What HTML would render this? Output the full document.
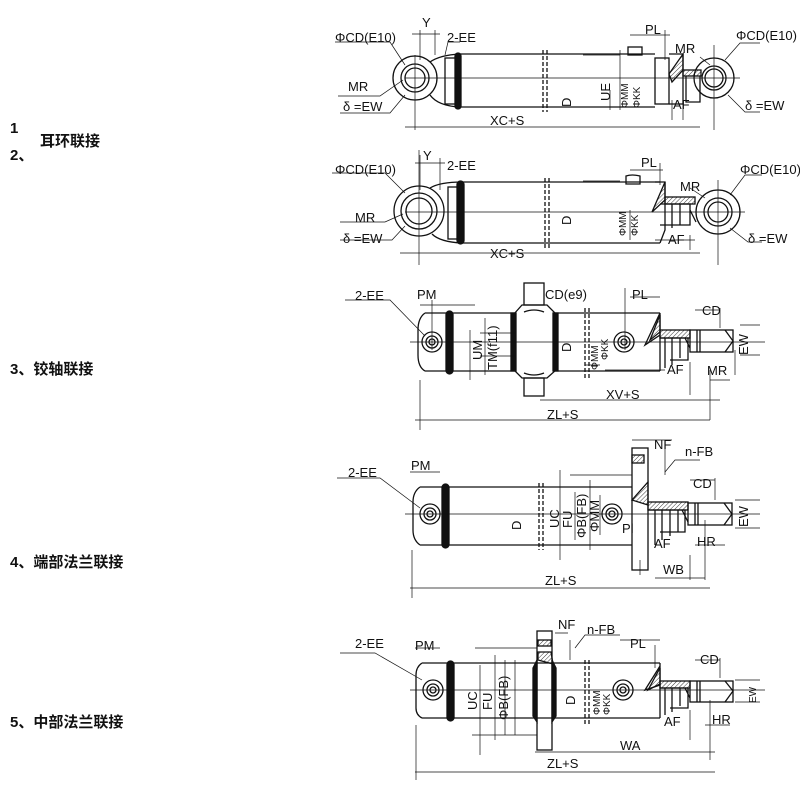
<!DOCTYPE html>
<html><head><meta charset="utf-8"><style>
html,body{margin:0;padding:0;background:#fff;}
svg{display:block;}
.t{font-family:"Liberation Sans",sans-serif;font-size:13px;fill:#111;}
.s{font-family:"Liberation Sans",sans-serif;font-size:10px;fill:#111;}
.c{font-family:"Liberation Sans","Noto Sans CJK SC",sans-serif;font-size:15px;fill:#111;font-weight:bold;}
</style></head><body>
<svg width="800" height="792" viewBox="0 0 800 792" xmlns="http://www.w3.org/2000/svg">
<defs>
<pattern id="h" width="3" height="3" patternUnits="userSpaceOnUse" patternTransform="rotate(45)"><line x1="0" y1="0" x2="0" y2="3" stroke="#222" stroke-width="0.9"/></pattern>
</defs>
<text class="c" x="10" y="133" font-size="13" font-weight="normal">1</text>
<text class="c" x="10" y="160" font-weight="normal">2、</text>
<text class="c" x="40" y="146">耳环联接</text>
<text class="c" x="10" y="374">3、铰轴联接</text>
<text class="c" x="10" y="567">4、端部法兰联接</text>
<text class="c" x="10" y="727">5、中部法兰联接</text>

<g fill="none" stroke="#111" stroke-width="1.3">
<!-- ===== Drawing 1 ===== -->
<circle cx="415" cy="78" r="22"/><circle cx="415" cy="78" r="14"/><circle cx="415" cy="78" r="10"/>
<path d="M430 62 Q440 55 460 54 L655 54 M430 95 Q438 106 460 107 L655 107"/>
<rect x="445" y="58" width="12" height="46"/>
<rect x="455" y="53" width="6" height="56" rx="3" fill="#111"/>
<path d="M543 50 V112 M547 50 V112" stroke-dasharray="4,2"/>
<rect x="655" y="58" width="14" height="46"/>
<path d="M669 54 L683 54 L683 104 L669 104"/><path d="M669 74 L683 54 L683 70 L672 82Z" fill="url(#h)"/>
<rect x="683" y="70" width="18" height="6" fill="url(#h)"/>
<path d="M686 76 V102 H700 V76"/>
<circle cx="714" cy="78" r="20"/><circle cx="714" cy="78" r="12"/><circle cx="714" cy="78" r="9"/>
<rect x="628" y="47" width="14" height="8"/>
<g stroke-width="0.7">
<path d="M405 78 H740 M415 55 V130 M714 45 V130 M405 127 H700"/>
<path d="M412 34 H440 M420 30 V60 M435 30 V55 M583 55 H620 M630 35 H670 M665 30 V60 M620 50 V110 M672 100 V120 M683 102 V120 M610 90 V110"/>
<path d="M335 42 L390 42 L405 65 M338 96 L380 96 L403 80 M340 113 L390 113 L405 95 M760 43 L740 43 L725 60 M760 112 L745 112 L728 95 M700 57 L710 65 M460 42 L448 42 L445 55"/>
</g>

<!-- ===== Drawing 2 ===== -->
<circle cx="419" cy="211" r="25"/><circle cx="419" cy="211" r="18"/><circle cx="419" cy="211" r="13"/>
<path d="M430 188 Q440 182 462 182 L660 182 M432 234 Q440 242 462 243 L660 243"/>
<rect x="448" y="187" width="12" height="52"/>
<rect x="457" y="181" width="7" height="63" rx="3.5" fill="#111"/>
<path d="M545 178 V248 M549 178 V248" stroke-dasharray="4,2"/>
<path d="M655 182 L665 182 L665 230 L660 243" />
<path d="M652 212 L665 182 L665 200Z" fill="url(#h)"/>
<rect x="665" y="197" width="30" height="7" fill="url(#h)"/>
<path d="M660 204 H690 V225 H660 M672 204 V228 M680 204 V225 M690 210 L696 222"/>
<circle cx="718" cy="212" r="22"/><circle cx="718" cy="212" r="14"/><circle cx="718" cy="212" r="10"/>
<path d="M626 176 Q632 174 640 176 L640 184 L626 184Z"/>
<g stroke-width="0.7">
<path d="M405 212 H745 M419 150 V265 M718 180 V265 M400 253 H700"/>
<path d="M415 163 H445 M420 155 V190 M440 158 V190 M583 181 H620 M630 170 H663 M660 163 V185 M630 210 V240 M655 240 H695 M690 235 V250"/>
<path d="M332 173 L385 173 L405 193 M340 222 L385 222 L403 214 M340 240 L392 240 L405 226 M762 175 L745 175 L730 195 M762 242 L748 242 L730 228 M690 188 L705 198"/>
</g>

<!-- ===== Drawing 3 ===== -->
<path d="M425 313 L515 313 M555 313 L660 313 M425 371 L515 371 M555 371 L660 371 M425 313 Q418 318 418 330 L418 355 Q418 367 425 371"/>
<rect x="446" y="311" width="7" height="63" rx="3.5" fill="#111"/>
<path d="M522 305 L547 305 L556 314 L556 370 L547 378 L522 378 L514 370 L514 314Z"/>
<rect x="511" y="313" width="5" height="58" fill="#111"/><rect x="553" y="313" width="5" height="58" fill="#111"/>
<rect x="524" y="283" width="20" height="22"/><rect x="524" y="378" width="20" height="18"/>
<path d="M524 312 Q534 308 544 312 M524 373 Q534 377 544 373"/>
<circle cx="432" cy="342" r="10"/><circle cx="432" cy="342" r="6"/><circle cx="432" cy="342" r="3"/>
<circle cx="624" cy="342" r="10"/><circle cx="624" cy="342" r="6"/><circle cx="624" cy="342" r="3"/>
<path d="M585 308 V380 M589 308 V380" stroke-dasharray="4,2"/>
<path d="M660 313 L660 371 M645 345 L660 313 L660 335Z"/>
<path d="M650 340 L660 315 L660 332Z" fill="url(#h)"/>
<rect x="660" y="330" width="30" height="8" fill="url(#h)"/>
<path d="M660 338 H688 V360 H670 M665 338 V368 M672 338 V365 M680 338 V358 M685 338 L690 348"/>
<rect x="690" y="330" width="43" height="22"/><path d="M697 330 V352 M700 330 V352 M725 330 L733 341 L725 352"/>
<g stroke-width="0.7">
<path d="M410 342 H765 M420 380 V430 M432 300 V350 M625 288 V350 M415 420 H710 M540 400 H720 M605 370 H665 M630 297 H660 M695 310 H720 M720 308 V328 M740 325 H760 M740 355 H760 M710 380 H730 M690 362 V395 M710 370 V420 M735 350 V375"/>
<path d="M345 300 L390 300 L425 336 M420 305 H475 M470 330 V380 M485 318 V375 M480 333 H515 M480 356 H515 M585 313 H600 M585 365 H600"/>
</g>

<!-- ===== Drawing 4 ===== -->
<path d="M420 487 L632 487 M420 545 L632 545 M420 487 Q413 492 413 502 L413 530 Q413 540 420 545"/>
<rect x="442" y="484" width="7" height="64" rx="3.5" fill="#111"/>
<circle cx="430" cy="514" r="10"/><circle cx="430" cy="514" r="6"/><circle cx="430" cy="514" r="3"/>
<circle cx="612" cy="514" r="10"/><circle cx="612" cy="514" r="6"/><circle cx="612" cy="514" r="3"/>
<path d="M539 483 V550 M543 483 V550" stroke-dasharray="4,2"/>
<rect x="632" y="448" width="16" height="122"/>
<rect x="632" y="455" width="12" height="8" fill="url(#h)"/>
<path d="M632 500 L648 482 L648 505Z" fill="url(#h)"/>
<rect x="648" y="502" width="40" height="8" fill="url(#h)"/>
<path d="M648 510 H685 V532 H660 M655 510 V545 M662 510 V540 M670 510 V536 M678 510 V532 M682 510 L688 522"/>
<rect x="688" y="503" width="44" height="22"/><path d="M695 503 V525 M698 503 V525 M724 503 L732 514 L724 525"/>
<g stroke-width="0.7">
<path d="M405 514 H760 M412 550 V598 M410 588 H710 M570 475 H632 M560 470 V560 M575 492 V540 M590 480 V550 M600 495 V535 M632 440 H672 M665 440 V475 M690 480 H715 M715 478 V500 M735 500 H760 M735 528 H760 M695 545 H725 M655 578 H705 M690 555 V580 M705 520 V580 M640 560 V575"/>
<path d="M337 478 L380 478 L420 508 M410 472 H440 M700 460 L675 460 L665 472"/>
</g>

<!-- ===== Drawing 5 ===== -->
<path d="M422 663 L660 663 M422 718 L660 718 M422 663 Q416 667 416 675 L416 708 Q416 715 422 718"/>
<rect x="447" y="661" width="7" height="60" rx="3.5" fill="#111"/>
<rect x="537" y="631" width="15" height="119"/>
<path d="M533 668 L537 660 L537 722 L533 716Z" fill="#111"/><path d="M556 668 L552 660 L552 722 L556 716Z" fill="#111"/>
<rect x="538" y="640" width="13" height="6" fill="url(#h)"/><path d="M538 652 L551 652 L553 664 L538 660Z" fill="url(#h)"/>
<circle cx="433" cy="690" r="10"/><circle cx="433" cy="690" r="6"/><circle cx="433" cy="690" r="3"/>
<circle cx="623" cy="690" r="10"/><circle cx="623" cy="690" r="6"/><circle cx="623" cy="690" r="3"/>
<path d="M585 660 V725 M589 660 V725" stroke-dasharray="4,2"/>
<path d="M660 663 V718 M645 690 L660 666 L660 685Z"/>
<path d="M648 690 L660 668 L660 684Z" fill="url(#h)"/>
<rect x="660" y="681" width="30" height="7" fill="url(#h)"/>
<path d="M660 688 H688 V708 H670 M665 688 V715 M672 688 V712 M680 688 V706 M685 688 L690 698"/>
<rect x="690" y="681" width="43" height="21"/><path d="M697 681 V702 M700 681 V702 M725 681 L733 691 L725 702"/>
<g stroke-width="0.7">
<path d="M410 690 H765 M416 725 V780 M415 772 H715 M535 752 H715 M475 648 H537 M480 665 V755 M495 655 V740 M505 660 V735 M515 660 V735 M472 735 H537 M620 640 H660 M655 645 V668 M695 660 H720 M720 658 V678 M735 680 H760 M735 702 H760 M705 725 H730 M690 710 V740 M710 700 V760 M555 633 H568 M570 640 V660"/>
<path d="M340 653 L375 653 L422 680 M415 648 H440 M620 635 L585 635 L575 648"/>
</g>
</g>

<g class="t">
<text x="335" y="42">ΦCD(E10)</text><text x="422" y="27">Y</text><text x="447" y="42">2-EE</text>
<text x="348" y="91">MR</text><text x="343" y="111">δ =EW</text>
<text x="490" y="125">XC+S</text><text x="645" y="34">PL</text><text x="675" y="53">MR</text>
<text x="736" y="40">ΦCD(E10)</text><text x="745" y="110">δ =EW</text><text x="673" y="109">AF</text>
<text x="335" y="174">ΦCD(E10)</text><text x="423" y="160">Y</text><text x="447" y="170">2-EE</text>
<text x="355" y="222">MR</text><text x="343" y="243">δ =EW</text>
<text x="490" y="258">XC+S</text><text x="641" y="167">PL</text><text x="680" y="191">MR</text>
<text x="740" y="174">ΦCD(E10)</text><text x="748" y="243">δ =EW</text><text x="668" y="244">AF</text>
<text x="545" y="299">CD(e9)</text>
<text x="355" y="300">2-EE</text><text x="417" y="299">PM</text><text x="632" y="299">PL</text><text x="702" y="315">CD</text>
<text x="667" y="374">AF</text><text x="707" y="375">MR</text><text x="606" y="399">XV+S</text><text x="547" y="419">ZL+S</text>
<text x="348" y="477">2-EE</text><text x="411" y="470">PM</text><text x="654" y="449">NF</text><text x="685" y="456">n-FB</text>
<text x="693" y="488">CD</text><text x="654" y="548">AF</text><text x="697" y="546">HR</text><text x="663" y="574">WB</text><text x="545" y="585">ZL+S</text>
<text x="355" y="648">2-EE</text><text x="415" y="650">PM</text><text x="558" y="629">NF</text><text x="587" y="634">n-FB</text>
<text x="630" y="648">PL</text><text x="700" y="664">CD</text><text x="664" y="726">AF</text><text x="712" y="724">HR</text>
<text x="620" y="750">WA</text><text x="547" y="768">ZL+S</text>
</g>
<g class="t">
<text transform="translate(571,107) rotate(-90)">D</text>
<text transform="translate(610,101) rotate(-90)">UE</text>
<text transform="translate(628,108) rotate(-90)" class="s">ΦMM</text>
<text transform="translate(640,108) rotate(-90)" class="s">ΦKK</text>
<text transform="translate(571,225) rotate(-90)">D</text>
<text transform="translate(626,236) rotate(-90)" class="s">ΦMM</text>
<text transform="translate(638,236) rotate(-90)" class="s">ΦKK</text>
<text transform="translate(482,360) rotate(-90)">UM</text>
<text transform="translate(497,370) rotate(-90)">TM(f11)</text>
<text transform="translate(571,352) rotate(-90)">D</text>
<text transform="translate(598,370) rotate(-90)" class="s">ΦMM</text>
<text transform="translate(608,360) rotate(-90)" class="s">ΦKK</text>
<text transform="translate(521,530) rotate(-90)">D</text>
<text transform="translate(559,528) rotate(-90)">UC</text>
<text transform="translate(572,528) rotate(-90)">FU</text>
<text transform="translate(586,538) rotate(-90)">ΦB(FB)</text>
<text transform="translate(599,532) rotate(-90)">ΦMM</text>
<text x="622" y="533">Pl</text>
<text transform="translate(748,527) rotate(-90)">EW</text>
<text transform="translate(748,355) rotate(-90)">EW</text>
<text transform="translate(477,710) rotate(-90)">UC</text>
<text transform="translate(492,710) rotate(-90)">FU</text>
<text transform="translate(508,720) rotate(-90)">ΦB(FB)</text>
<text transform="translate(575,705) rotate(-90)">D</text>
<text transform="translate(600,715) rotate(-90)" class="s">ΦMM</text>
<text transform="translate(610,715) rotate(-90)" class="s">ΦKK</text>
<text transform="translate(756,703) rotate(-90)" class="s">EW</text>
</g>
</svg>
</body></html>
